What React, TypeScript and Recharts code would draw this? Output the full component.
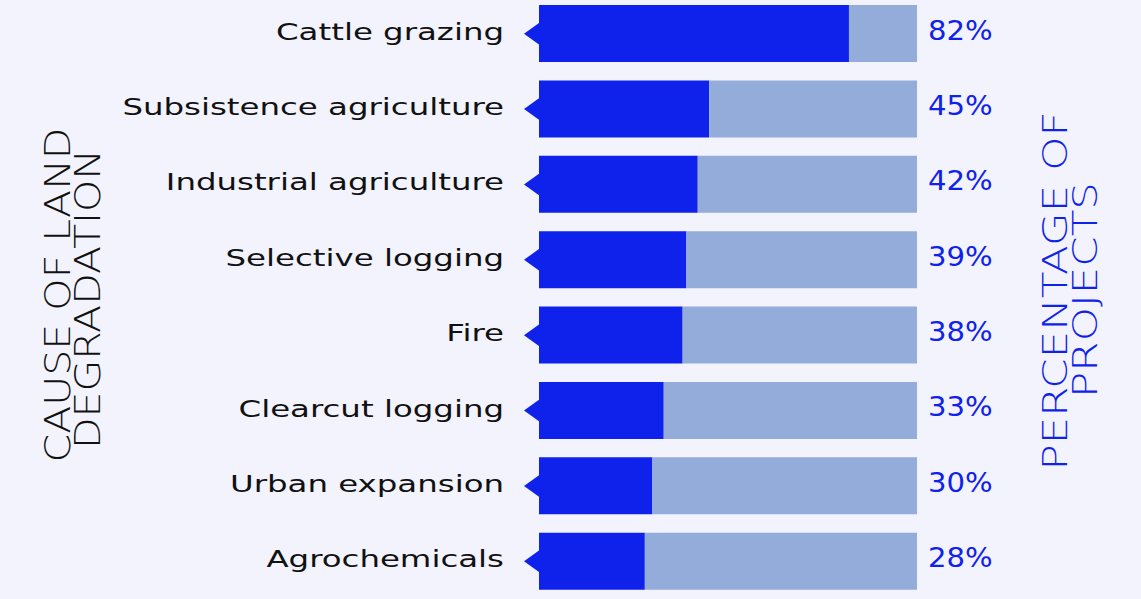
import React from 'react'
import { BarChart, Bar, XAxis, YAxis, LabelList } from 'recharts'

const causes = [
  'Cattle grazing',
  'Subsistence agriculture',
  'Industrial agriculture',
  'Selective logging',
  'Fire',
  'Clearcut logging',
  'Urban expansion',
  'Agrochemicals',
]
const shares = [82, 45, 42, 39, 38, 33, 30, 28]

const BLUE = '#0f22eb'
const PALE = '#93acd9'
const BG = '#f3f3fd'
const FONT = '"DejaVu Sans", sans-serif'

const rows = causes.map((name, i) => ({ name, value: shares[i], rest: 100 - shares[i] }))

const CauseTick = ({ x, y, payload }: any) => (
  <g>
    <polygon points={`${x - 15},${y} ${x + 1},${y - 11.5} ${x + 1},${y + 11.5}`} fill={BLUE} />
    <g transform={`translate(${x - 35},${y + 6}) scale(1.38,1)`}>
      <text x={0} y={0} textAnchor="end" fontFamily={FONT} fontSize={23.5} fill="#111">
        {payload.value}
      </text>
    </g>
  </g>
)

const PctLabel = ({ x, y, width, height, value }: any) => (
  <g transform={`translate(${x + width + 11},${y + height / 2 + 6}) scale(1.12,1)`}>
    <text x={0} y={0} fontFamily={FONT} fontSize={26} fill={BLUE}>
      {value}%
    </text>
  </g>
)

const Title = ({ x, y, text, color, size, stretch }: any) => (
  <g transform={`translate(${x},${y}) rotate(-90) scale(${stretch},1)`}>
    <text x={0} y={0} textAnchor="middle" fontFamily={FONT} fontWeight={300} fontSize={size} fill={color}>
      {text}
    </text>
  </g>
)

export default function App() {
  return (
    <div style={{ position: 'absolute', left: 0, top: 0, width: 1141, height: 599, background: BG, overflow: 'hidden' }}>
      <div style={{ position: 'absolute', left: 0, top: -4 }}>
        <BarChart
          width={1141}
          height={603}
          data={rows}
          layout="vertical"
          margin={{ top: 0, right: 224, bottom: 0, left: 529 }}
          barSize={57}
        >
          <XAxis type="number" domain={[0, 100]} hide />
          <YAxis
            type="category"
            dataKey="name"
            width={10}
            axisLine={false}
            tickLine={false}
            tickSize={0}
            tickMargin={0}
            tick={CauseTick}
            interval={0}
          />
          <Bar dataKey="value" stackId="s" fill={BLUE} isAnimationActive={false} />
          <Bar dataKey="rest" stackId="s" fill={PALE} isAnimationActive={false}>
            <LabelList dataKey="value" content={PctLabel} />
          </Bar>
        </BarChart>
      </div>
      <svg width={1141} height={599} style={{ position: 'absolute', left: 0, top: 0, pointerEvents: 'none' }}>
        <Title x={70} y={295} text="CAUSE OF LAND" color="#111" size={36} stretch={1.14} />
        <Title x={100} y={299} text="DEGRADATION" color="#111" size={36} stretch={1.14} />
        <Title x={1067} y={291} text="PERCENTAGE  OF" color={BLUE} size={33} stretch={1.32} />
        <Title x={1097} y={290} text="PROJECTS" color={BLUE} size={33} stretch={1.32} />
      </svg>
    </div>
  )
}
